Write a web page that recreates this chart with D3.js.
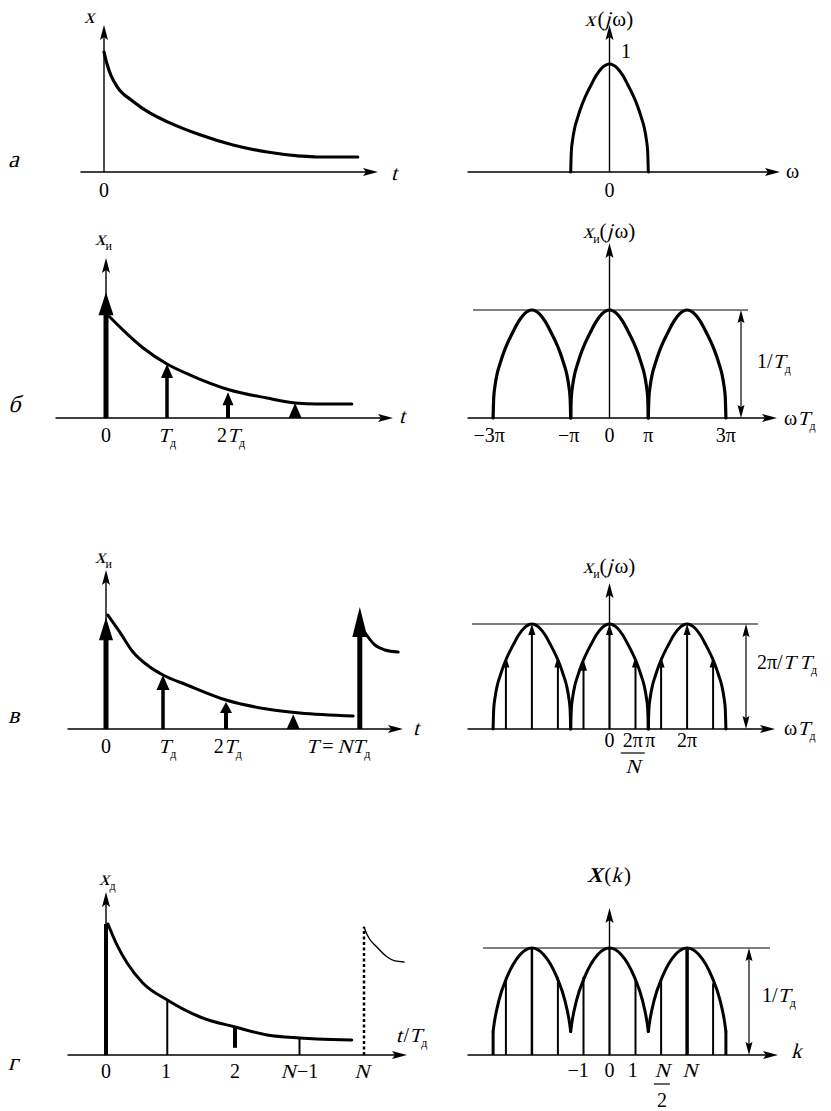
<!DOCTYPE html>
<html><head><meta charset="utf-8">
<script src="https://cdn.jsdelivr.net/npm/d3@7"></script>
<style>body{margin:0;background:#fff}</style>
</head><body>
<script>
// ---------------- DATA ----------------
// Panel а, time signal x(t), t in units of T_д
const aT = [0, 0.05, 0.12, 0.22, 0.48, 0.77, 1.05, 1.6, 2.15, 2.72, 3.27, 3.55, 4.23];
const aX = [1.0, 0.9, 0.8, 0.71, 0.59, 0.49, 0.42, 0.31, 0.225, 0.167, 0.133, 0.125, 0.125];
// Panel б
const bT = [0.03, 0.28, 0.61, 1.0, 1.38, 2.03, 2.64, 3.1, 3.46, 4.03];
const bX = [1.0, 0.854, 0.68, 0.524, 0.417, 0.272, 0.194, 0.146, 0.136, 0.136];
const bImpT = [0, 1, 2, 3.1];
const bImpX = [1.22, 0.524, 0.25, 0.146];
const bTickT = [0, 1, 2.05];
// Panel в
const cT = [0.03, 0.23, 0.45, 0.73, 0.95, 1.35, 2.0, 2.68, 3.23, 4.12];
const cX = [1.0, 0.85, 0.675, 0.544, 0.474, 0.386, 0.254, 0.175, 0.14, 0.114];
const cTailT = [4.32, 4.48, 4.65, 4.87];
const cTailX = [0.842, 0.737, 0.693, 0.675];
const cImpT = [0, 0.95, 2, 3.12, 4.23];
const cImpX = [0.98, 0.474, 0.237, 0.13, 1.07];
const cTickT = [0, 1.02, 2.03, 3.87];
// Panel г
const dT = [0.03, 0.17, 0.33, 0.57, 0.95, 1.46, 2.0, 2.5, 3.0, 3.27, 3.81];
const dX = [1.0, 0.84, 0.70, 0.55, 0.42, 0.29, 0.214, 0.153, 0.13, 0.122, 0.115];
const dTailT = [4.0, 4.05, 4.2, 4.36, 4.48, 4.62];
const dTailX = [0.977, 0.916, 0.824, 0.748, 0.718, 0.71];
const dStemT = [0, 0.95, 2, 3];
const dStemX = [1.0, 0.42, 0.214, 0.13];
const dStemBase = [0, 0, 0.055, 0];
const dDotT = [4];
const dDotX = [0.977];
const dTickT = [0, 0.93, 2, 3.0, 3.98];
const dTickLab = ["0", "1", "2", "N−1", "N"];
// Spectra: ω·T_д in units of π
const archU = [-1, -0.984, -0.95, -0.896, -0.82, -0.723, -0.62, -0.462, -0.35, -0.2, 0, 0.2, 0.35, 0.462, 0.62, 0.723, 0.82, 0.896, 0.95, 0.984, 1];
const archV = [0, 0.19, 0.30, 0.41, 0.505, 0.61, 0.70, 0.815, 0.89, 0.962, 1, 0.962, 0.89, 0.815, 0.70, 0.61, 0.505, 0.41, 0.30, 0.19, 0];
const archGU = [-1, -0.97, -0.85, -0.64, -0.3, 0, 0.3, 0.64, 0.85, 0.97, 1];
const archGV = [0.22, 0.3, 0.51, 0.73, 0.94, 1, 0.94, 0.73, 0.51, 0.3, 0.22];
const aCenters = [0];
const pCenters = [-2, 0, 2];
const bTickW = [-3, -1, 0, 1, 3];
const bTickLab = ["−3π", "−π", "0", "π", "3π"];
const specW = [-2.67, -2, -1.33, -0.67, 0, 0.67, 1.33, 2, 2.67];
const cSpecX = [0.69, 1, 0.69, 0.66, 1, 0.69, 0.69, 1, 0.69];
const dSpecX = [0.73, 1, 0.73, 0.73, 1, 0.70, 0.72, 1, 0.67];
const cTickW = [0, 1.05, 2];
const cFracW = [0.6];
const dTickW = [-0.81, 0, 0.6, 2.07];
const dTickLabR = ["−1", "0", "1", "N"];
const dFracW = [1.35];

// ---------------- DRAWING ----------------
const svg = d3.select("body").append("svg").attr("width", 831).attr("height", 1111);
svg.append("rect").attr("width", 831).attr("height", 1111).attr("fill", "#fff");
const FONT = '"Liberation Serif","Times New Roman",serif';
const K = "#000";

// rich text: italic parts drawn as skewed upright serif (no serif italic face installed)
function rich(x, y, spec, o = {}) {
  const size = o.size || 20, sub = o.sub || 12, shift = o.shift || 5;
  const g = svg.append("g");
  const items = spec.map(([k, s]) => {
    if (k === "gap") return { gap: s, w: s };
    const isSub = k.includes("s");
    const fs = isSub ? sub : size;
    const t = g.append("text").text(s).style("font-family", FONT).style("font-size", fs + "px").attr("fill", K);
    if (k.includes("b")) t.style("font-weight", "bold");
    return { t, w: t.node().getComputedTextLength(), it: k.includes("i"), sub: isSub, dy: isSub ? shift : 0, fs };
  });
  let total = 0;
  items.forEach((d, i) => {
    d.off = total;
    const nx = items[i + 1];
    total += d.w + (d.it && nx && !nx.gap && !nx.it && !nx.sub ? 0.1 * d.fs : 0);
  });
  const x0 = o.anchor === "middle" ? x - total / 2 : o.anchor === "end" ? x - total : x;
  items.forEach(d => {
    if (d.gap) return;
    d.t.attr("transform", `translate(${x0 + d.off},${y + d.dy})` + (d.it ? " skewX(-15)" : ""));
  });
}
function head(x, y, dir, len = 14, hw = 4, notch = 3) {
  let d;
  if (dir === "right") d = `M${x},${y}L${x - len},${y - hw}L${x - len + notch},${y}L${x - len},${y + hw}Z`;
  else if (dir === "up") d = `M${x},${y}L${x - hw},${y + len}L${x},${y + len - notch}L${x + hw},${y + len}Z`;
  else d = `M${x},${y}L${x - hw},${y - len}L${x},${y - len + notch}L${x + hw},${y - len}Z`;
  svg.append("path").attr("d", d).attr("fill", K);
}
function hAxis(xs, x1, x2, y) {
  const s = d3.scaleLinear().domain([xs.invert(x1), xs.invert(x2 - 8)]).range([x1, x2 - 8]);
  const g = svg.append("g").attr("transform", `translate(0,${y - 0.5})`)
    .call(d3.axisBottom(s).tickValues([]).tickSizeOuter(0));
  g.select(".domain").attr("stroke", K).attr("stroke-width", 1.4);
  head(x2, y, "right", 15, 4, 3);
}
function vAxis(ys, x, yTop) {
  const yb = ys.range()[0];
  const s = d3.scaleLinear().domain([ys.invert(yb), ys.invert(yTop + 8)]).range([yb, yTop + 8]);
  const g = svg.append("g").attr("transform", `translate(${x - 0.5},0)`)
    .call(d3.axisLeft(s).tickValues([]).tickSizeOuter(0));
  g.select(".domain").attr("stroke", K).attr("stroke-width", 1.4);
  head(x, yTop, "up", 15, 4, 3);
}
function curve(xs, ys, T, X, w) {
  const line = d3.line().x(d => xs(d[0])).y(d => ys(d[1])).curve(d3.curveMonotoneX);
  svg.append("path").attr("d", line(T.map((t, i) => [t, X[i]])))
    .attr("fill", "none").attr("stroke", K).attr("stroke-width", w).attr("stroke-linecap", "round");
}
function impulse(x, yb, yt, sw, hl, hw) {
  const L = Math.min(hl, yb - yt);
  if (sw > 0 && yb - yt > hl) svg.append("line").attr("x1", x).attr("x2", x).attr("y1", yb)
    .attr("y2", yt + L * 0.7).attr("stroke", K).attr("stroke-width", sw);
  svg.append("path").attr("d", `M${x},${yt}L${x - hw / 2},${yt + L}L${x + hw / 2},${yt + L}Z`).attr("fill", K);
}
function dbl(x, y1, y2) {
  svg.append("line").attr("x1", x).attr("x2", x).attr("y1", y1 + 6).attr("y2", y2 - 6)
    .attr("stroke", K).attr("stroke-width", 1.2);
  head(x, y1, "up", 13, 3.5, 2);
  head(x, y2, "down", 13, 3.5, 2);
}
function hline(x1, x2, y) {
  svg.append("line").attr("x1", x1).attr("x2", x2).attr("y1", y).attr("y2", y)
    .attr("stroke", K).attr("stroke-width", 1.2);
}
function arches(xs, ys, centers, U, V, w) {
  centers.forEach(c => curve(xs, ys, U.map(u => c + u), V, w));
}
const left = (x0, u) => d3.scaleLinear().domain([0, 1]).range([x0, x0 + u]);
const amp = (base, H) => d3.scaleLinear().domain([0, 1]).range([base, base - H]);
const xr = d3.scaleLinear().domain([0, 1]).range([609.5, 609.5 + 38.8]);

// panel letters
[["а", 167], ["б", 412], ["в", 723], ["г", 1070]].forEach(([s, y]) => rich(8, y, [["i", s]], { size: 24 }));

// ===== а =====
{
  const xs = left(104, 60), ys = amp(172, 120);
  hAxis(xs, 80, 378, 172); vAxis(ys, 104, 25);
  curve(xs, ys, aT, aX, 3.2);
  rich(84, 23, [["i", "x"]], { size: 21 });
  rich(391, 180, [["i", "t"]], { size: 21 });
  rich(xs(0), 197, [["", "0"]], { anchor: "middle" });
  const yr = amp(172, 108);
  hAxis(xr, 467, 780, 172); vAxis(yr, 609.5, 25);
  arches(xr, yr, aCenters, archU, archV, 3);
  rich(609, 26, [["i", "x"], ["", "("], ["i", "j"], ["", "ω)"]], { anchor: "middle", size: 21 });
  rich(621, 58, [["", "1"]]);
  rich(786, 178, [["", "ω"]]);
  rich(xr(0), 197, [["", "0"]], { anchor: "middle" });
}
// ===== б =====
{
  const xs = left(106, 61), ys = amp(418, 103);
  hAxis(xs, 55, 393, 418); vAxis(ys, 106, 258);
  curve(xs, ys, bT, bX, 3);
  const sw = [5, 3.5, 4, 0], hl = [23, 14, 13, 15], hw = [15, 12, 11, 13];
  bImpT.forEach((t, i) => impulse(xs(t), ys(0), ys(bImpX[i]), sw[i], hl[i], hw[i]));
  rich(95, 245, [["i", "x"], ["s", "и"]], { size: 21 });
  rich(399, 423, [["i", "t"]], { size: 21 });
  const labs = [[["", "0"]], [["i", "T"], ["s", "д"]], [["", "2"], ["i", "T"], ["s", "д"]]];
  bTickT.forEach((t, i) => rich(xs(t), 442, labs[i], { anchor: "middle" }));
  const yr = amp(418, 108);
  hAxis(xr, 467, 777, 418); vAxis(yr, 609.5, 243);
  hline(473, 748, yr(1));
  dbl(741, yr(1), yr(0));
  arches(xr, yr, pCenters, archU, archV, 3.2);
  rich(609, 238, [["i", "x"], ["s", "и"], ["", "("], ["i", "j"], ["", "ω)"]], { anchor: "middle", size: 21 });
  rich(757, 368, [["", "1/"], ["i", "T"], ["s", "д"]]);
  rich(784, 425, [["", "ω"], ["i", "T"], ["s", "д"]]);
  bTickW.forEach((w, i) => rich(xr(w) - (i === 0 ? 4 : i === 1 ? 2 : 0), 442, [["", bTickLab[i]]], { anchor: "middle" }));
}
// ===== в =====
{
  const xs = left(106, 60), ys = amp(729, 114);
  hAxis(xs, 67, 403, 729); vAxis(ys, 106, 570);
  curve(xs, ys, cT, cX, 3);
  curve(xs, ys, cTailT, cTailX, 3);
  const sw = [5, 3.5, 4, 0, 5], hl = [23, 15, 11, 15, 30], hw = [14, 13, 12, 13, 15];
  cImpT.forEach((t, i) => impulse(xs(t), ys(0), ys(cImpX[i]), sw[i], hl[i], hw[i]));
  rich(95, 563, [["i", "x"], ["s", "и"]], { size: 21 });
  rich(413, 735, [["i", "t"]], { size: 21 });
  const labs = [[["", "0"]], [["i", "T"], ["s", "д"]], [["", "2"], ["i", "T"], ["s", "д"]],
    [["i", "T"], ["gap", 4], ["", "="], ["gap", 4], ["i", "NT"], ["s", "д"]]];
  cTickT.forEach((t, i) => rich(xs(t), 753, labs[i], { anchor: "middle" }));
  const yr = amp(729, 105);
  hAxis(xr, 467, 775, 729); vAxis(yr, 609.5, 583);
  hline(472, 758, yr(1));
  dbl(746, yr(1), yr(0));
  arches(xr, yr, pCenters, archU, archV, 3);
  specW.forEach((w, i) => impulse(xr(w), yr(0), yr(cSpecX[i]), 2, 11, 7));
  rich(609, 573, [["i", "x"], ["s", "и"], ["", "("], ["i", "j"], ["", "ω)"]], { anchor: "middle", size: 21 });
  rich(757, 669, [["", "2π/"], ["i", "T"], ["gap", 4], ["i", "T"], ["s", "д"]]);
  rich(784, 735, [["", "ω"], ["i", "T"], ["s", "д"]]);
  const lab = ["0", "π", "2π"];
  cTickW.forEach((w, i) => rich(xr(w), 747, [["", lab[i]]], { anchor: "middle" }));
  cFracW.forEach(w => {
    rich(xr(w), 747, [["", "2π"]], { anchor: "middle" });
    hline(xr(w) - 12, xr(w) + 12, 753);
    rich(xr(w), 773, [["i", "N"]], { anchor: "middle" });
  });
}
// ===== г =====
{
  const xs = left(106, 64.5), ys = amp(1055, 131);
  hAxis(xs, 67, 407, 1055); vAxis(ys, 106, 892);
  const sw = [4, 2, 4, 2];
  dStemT.forEach((t, i) => svg.append("line").attr("x1", xs(t)).attr("x2", xs(t))
    .attr("y1", ys(dStemBase[i])).attr("y2", ys(dStemX[i])).attr("stroke", K).attr("stroke-width", sw[i]));
  dDotT.forEach((t, i) => svg.append("line").attr("x1", xs(t)).attr("x2", xs(t))
    .attr("y1", ys(0)).attr("y2", ys(dDotX[i])).attr("stroke", K).attr("stroke-width", 2.5)
    .attr("stroke-dasharray", "3,2.5"));
  curve(xs, ys, dT, dX, 3);
  curve(xs, ys, dTailT, dTailX, 1.4);
  rich(99, 885, [["i", "x"], ["s", "д"]], { size: 21 });
  rich(396, 1042, [["i", "t"], ["", "/"], ["i", "T"], ["s", "д"]]);
  dTickT.forEach((t, i) => {
    const s = dTickLab[i];
    rich(xs(t), 1078, s.startsWith("N") ? [["i", "N"], ["", s.slice(1)]] : [["", s]], { anchor: "middle" });
  });
  const yr = amp(1055, 107);
  hAxis(xr, 467, 778, 1055); vAxis(yr, 609.5, 908);
  hline(483, 770, yr(1));
  dbl(749, yr(1), yr(0));
  const ssw = [2, 2.5, 2, 2, 2, 2, 2, 3.5, 2];
  specW.forEach((w, i) => svg.append("line").attr("x1", xr(w)).attr("x2", xr(w))
    .attr("y1", yr(0)).attr("y2", yr(dSpecX[i])).attr("stroke", K).attr("stroke-width", ssw[i]));
  arches(xr, yr, pCenters, archGU, archGV, 3);
  [-3, 3].forEach(e => svg.append("line").attr("x1", xr(e)).attr("x2", xr(e))
    .attr("y1", yr(0)).attr("y2", yr(archGV[0])).attr("stroke", K).attr("stroke-width", 3));
  rich(609, 882, [["ib", "X"], ["", "("], ["i", "k"], ["", ")"]], { anchor: "middle", size: 21 });
  rich(762, 1002, [["", "1/"], ["i", "T"], ["s", "д"]]);
  rich(791, 1058, [["i", "k"]], { size: 21 });
  dTickW.forEach((w, i) => rich(xr(w), 1077, dTickLabR[i] === "N" ? [["i", "N"]] : [["", dTickLabR[i]]], { anchor: "middle" }));
  dFracW.forEach(w => {
    rich(xr(w), 1077, [["i", "N"]], { anchor: "middle" });
    hline(xr(w) - 8, xr(w) + 8, 1084);
    rich(xr(w), 1107, [["", "2"]], { anchor: "middle" });
  });
}
</script>
</body></html>
